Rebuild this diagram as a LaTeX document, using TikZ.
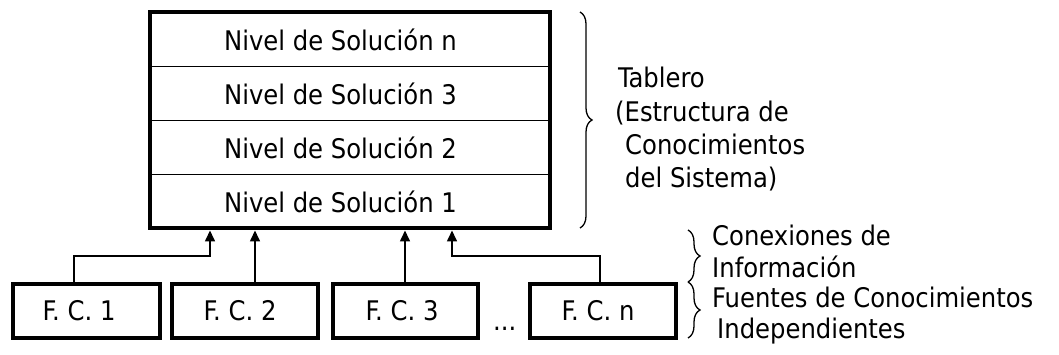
\documentclass[tikz,border=0pt]{standalone}
\usepackage{fontspec}
\setmainfont{DejaVu Sans Condensed}
\usetikzlibrary{decorations.pathreplacing,arrows.meta}

% shift a centred caption slightly to the left
\newcommand{\lefted}[2]{\hspace*{-#1}#2}

\begin{document}
\begin{tikzpicture}[x=1pt,y=-1pt,
    every node/.style={font=\fontsize{27}{33}\selectfont, inner sep=0pt},
    level/.style={draw, line width=1.5pt, minimum width=400pt, minimum height=54pt},
    board/.style={draw, line width=4pt, minimum width=400pt, minimum height=216pt},
    source/.style={draw, line width=4pt, minimum height=54pt},
    conn/.style={line width=1.6pt, -{Triangle[width=10pt,length=11pt]}},
    curly/.style={line width=1.3pt, decorate, decoration={brace, amplitude=12pt}},
    label/.style={anchor=base west}]
  \useasboundingbox (0,0) rectangle (1059,355);

  % solution levels of the blackboard
  \node[level] (lvn) at (349.5,39.5)  {\lefted{18pt}{Nivel de Solución n}};
  \node[level] (lv3) at (349.5,93.5)  {\lefted{18pt}{Nivel de Solución 3}};
  \node[level] (lv2) at (349.5,147.5) {\lefted{18pt}{Nivel de Solución 2}};
  \node[level] (lv1) at (349.5,201.5) {\lefted{18pt}{Nivel de Solución 1}};
  \node[board] (board) at (349.5,120.5) {};

  % knowledge sources
  \node[source, minimum width=147pt] (fc1) at (86,311)    {\lefted{14pt}{F. C. 1}};
  \node[source, minimum width=146pt] (fc2) at (245,311)   {\lefted{10pt}{F. C. 2}};
  \node[source, minimum width=145pt] (fc3) at (405.5,311) {\lefted{7pt}{F. C. 3}};
  \node[source, minimum width=146pt] (fcn) at (603,311)   {\lefted{10pt}{F. C. n}};
  \node[label] (dots) at (493,330) {...};

  % information connections
  \draw[conn] ([xshift=-12pt]fc1.north) -- ++(0,-26) -| ([xshift=-139.5pt]board.south);
  \draw[conn] ([xshift=10pt]fc2.north) -- ([xshift=-94.5pt]board.south);
  \draw[conn] ([xshift=-0.5pt]fc3.north) -- ([xshift=55.5pt]board.south);
  \draw[conn] ([xshift=-3pt]fcn.north) -- ++(0,-26) -| ([xshift=102.5pt]board.south);

  % braces and their captions
  \draw[curly] (580,12) -- (580,228);
  \draw[curly] (688,230) -- (688,282);
  \draw[curly] (688,282) -- (688,338);

  \node[label] (t1) at (618,88)  {Tablero};
  \node[label] (t2) at (615,122) {(Estructura de};
  \node[label] (t3) at (625,155) {Conocimientos};
  \node[label] (t4) at (625,188) {del Sistema)};

  \node[label] (c1) at (712,245) {Conexiones de};
  \node[label] (c2) at (712,277) {Información};
  \node[label] (c3) at (712,307) {Fuentes de Conocimientos};
  \node[label] (c4) at (717,338) {Independientes};
\end{tikzpicture}
\end{document}
